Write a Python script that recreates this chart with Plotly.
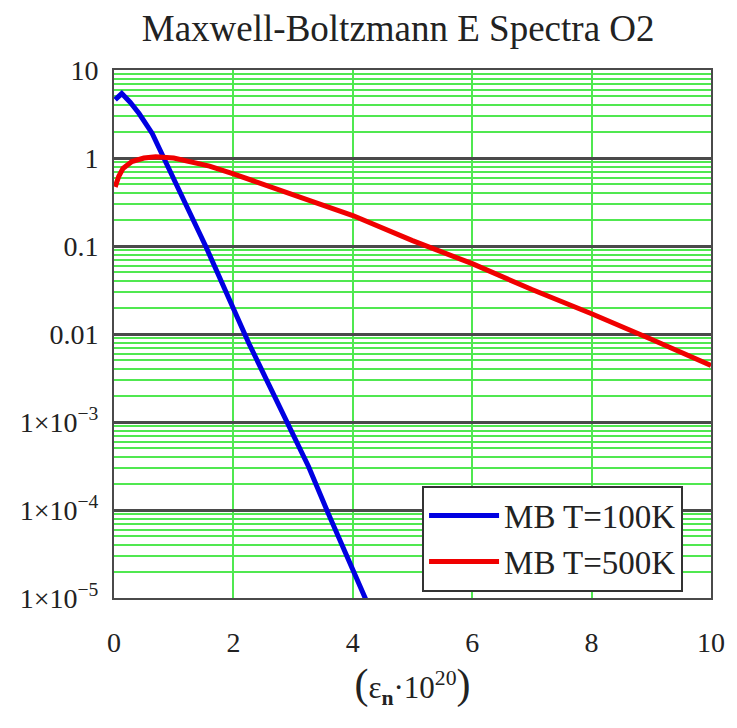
import plotly.graph_objects as go

# ---- data ----
blue_name = "MB T=100K"
blue_x = [0.02, 0.13, 0.27, 0.42, 0.64, 0.86, 1.12, 1.54, 1.98, 2.26, 2.59, 2.92, 3.26, 3.59, 3.92, 4.2, 4.35]
blue_y = [4.6, 5.4, 4.3, 3.2, 1.9, 0.95, 0.39, 0.098, 0.020, 0.0078, 0.0027, 9.5e-4, 3.1e-4, 9.1e-5, 2.9e-5, 1.02e-5, 6e-6]

red_name = "MB T=500K"
red_x = [0.02, 0.08, 0.15, 0.3, 0.5, 0.7, 1.0, 1.3, 1.6, 2.0, 2.8, 4.0, 5.0, 6.0, 7.0, 8.0, 9.0, 10.0]
red_y = [0.47, 0.62, 0.76, 0.91, 1.0, 1.035, 1.0, 0.90, 0.81, 0.66, 0.43, 0.222, 0.115, 0.063, 0.032, 0.017, 0.0087, 0.0044]

x_ticks = [0, 2, 4, 6, 8, 10]
y_tickvals = [10, 1, 0.1, 0.01, 1e-3, 1e-4, 1e-5]
y_ticktext = ["10", "1", "0.1", "0.01", "1×10<sup>−3</sup>", "1×10<sup>−4</sup>", "1×10<sup>−5</sup>"]

title_text = "Maxwell-Boltzmann E Spectra O2"
x_title = ('<span style="font-size:42px">(</span>ε<sub><b>n</b></sub>·10<sup>20</sup>'
           '<span style="font-size:42px">)</span>')

FONT = "Liberation Serif, Times New Roman, serif"
GREEN = "rgb(80,232,80)"
DARK = "#4a4a4a"

fig = go.Figure()
fig.add_trace(go.Scatter(x=blue_x, y=blue_y, mode="lines", name=blue_name,
                         line=dict(color="rgb(0,0,225)", width=5)))
fig.add_trace(go.Scatter(x=red_x, y=red_y, mode="lines", name=red_name,
                         line=dict(color="rgb(240,0,0)", width=5)))

fig.update_layout(
    width=737, height=728,
    margin=dict(l=114, r=24, t=70, b=130),
    paper_bgcolor="white", plot_bgcolor="white",
    font=dict(family=FONT, size=28, color="#222"),
    title=dict(text=title_text, x=0.476, xref="paper", xanchor="center",
               y=0.962, yanchor="middle", yref="container",
               font=dict(family=FONT, size=37, color="#222")),
    legend=dict(x=0.516, y=0.213, xanchor="left", yanchor="top",
                bgcolor="white", bordercolor="#333", borderwidth=2,
                font=dict(family=FONT, size=33, color="#222"),
                tracegroupgap=0, itemwidth=70),
    showlegend=True,
)

fig.update_xaxes(
    range=[0, 10], tickvals=x_ticks, ticktext=[str(v) for v in x_ticks],
    showgrid=True, gridcolor=GREEN, gridwidth=1.5,
    zeroline=False, showline=True, linecolor=DARK, linewidth=2, mirror=True,
    ticks="outside", ticklen=18, tickcolor="rgba(0,0,0,0)",
    tickfont=dict(family=FONT, size=28, color="#222"),
    title=dict(text=x_title, standoff=20, font=dict(family=FONT, size=31, color="#222")),
)

fig.update_yaxes(
    type="log", range=[-5, 1],
    tickvals=y_tickvals, ticktext=y_ticktext,
    showgrid=True, gridcolor=DARK, gridwidth=2.5,
    minor=dict(dtick="D1", showgrid=True, gridcolor=GREEN, gridwidth=1.5, ticks=""),
    zeroline=False, showline=True, linecolor=DARK, linewidth=2, mirror=True,
    ticks="outside", ticklen=8, tickcolor="rgba(0,0,0,0)",
    tickfont=dict(family=FONT, size=28, color="#222"),
)

fig.write_html("out.html", config={"displayModeBar": False},
               post_script="document.body.style.margin='0';")
